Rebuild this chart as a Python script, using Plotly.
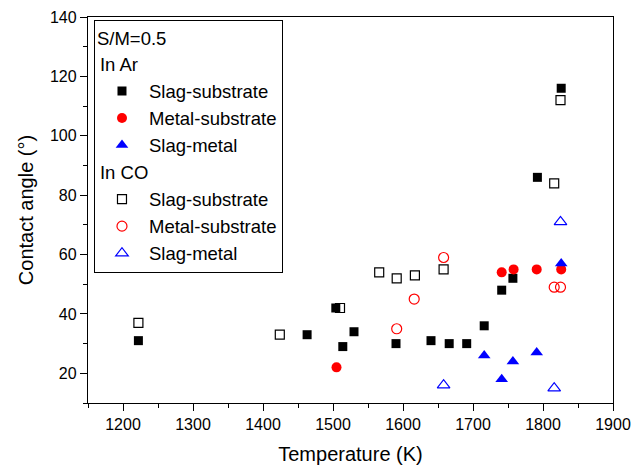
import plotly.graph_objects as go

# Slag-substrate in Ar (filled squares)
ss_ar_T = [1222, 1463, 1504, 1514, 1530, 1590, 1640, 1666, 1691, 1716, 1741, 1757, 1792, 1826]
ss_ar_A = [31, 33, 42, 29, 34, 30, 31, 30, 30, 36, 48, 52, 86, 116]
# Metal-substrate in Ar (filled circles)
ms_ar_T = [1505, 1741, 1758, 1791, 1826]
ms_ar_A = [22, 54, 55, 55, 55]
# Slag-metal in Ar (filled triangles)
sm_ar_T = [1716, 1741, 1757, 1791, 1826]
sm_ar_A = [26, 18, 24, 27, 57]
# Slag-substrate in CO (open squares)
ss_co_T = [1222, 1424, 1510, 1566, 1591, 1617, 1658, 1816, 1825]
ss_co_A = [37, 33, 42, 54, 52, 53, 55, 84, 112]
# Metal-substrate in CO (open circles)
ms_co_T = [1591, 1616, 1658, 1816, 1825]
ms_co_A = [35, 45, 59, 49, 49]
# Slag-metal in CO (open triangles)
sm_co_T = [1658, 1816, 1825]
sm_co_A = [16, 15, 71]

FONT = "Arial, Liberation Sans, sans-serif"
LEG = 18.5

fig = go.Figure()

def add(x, y, name, group, gtitle, symbol, color, size, filled):
    marker = dict(symbol=symbol, size=size, color=color)
    if not filled:
        marker["line"] = dict(color=color, width=1.2)
    else:
        marker["line"] = dict(width=0)
    fig.add_trace(go.Scatter(
        x=x, y=y, mode="markers", name=name, legendgroup=group,
        legendgrouptitle=dict(text=gtitle, font=dict(size=LEG, family=FONT, color="black")) if gtitle else None,
        marker=marker))

add(ss_ar_T, ss_ar_A, "Slag-substrate", "ar", "In Ar", "square", "black", 9, True)
add(ms_ar_T, ms_ar_A, "Metal-substrate", "ar", None, "circle", "#ff0000", 10, True)
add(sm_ar_T, sm_ar_A, "Slag-metal", "ar", None, "triangle-up", "#0000ff", 11, True)
add(ss_co_T, ss_co_A, "Slag-substrate", "co", "In CO", "square-open", "black", 9, False)
add(ms_co_T, ms_co_A, "Metal-substrate", "co", None, "circle-open", "#ff0000", 10, False)
add(sm_co_T, sm_co_A, "Slag-metal", "co", None, "triangle-up-open", "#0000ff", 11, False)

axis_common = dict(
    showgrid=False, zeroline=False, showline=True, linecolor="black", linewidth=1.3,
    mirror=True, ticks="outside", ticklen=7, tickwidth=1.3, tickcolor="black",
    tickfont=dict(size=16, family=FONT, color="black"), automargin=False,
)

fig.update_xaxes(
    range=[1150, 1900], tick0=1200, dtick=100,
    minor=dict(ticks="outside", ticklen=4, dtick=50, tick0=1150, tickcolor="black", tickwidth=1.3),
    title=dict(text="Temperature (K)", font=dict(size=20, family=FONT, color="black"), standoff=14),
    **axis_common)
fig.update_yaxes(
    range=[10, 140], tick0=0, dtick=20,
    minor=dict(ticks="outside", ticklen=4, dtick=10, tick0=0, tickcolor="black", tickwidth=1.3),
    title=dict(text="Contact angle (°)", font=dict(size=20, family=FONT, color="black"), standoff=10),
    **axis_common)

fig.update_layout(
    width=633, height=466,
    margin=dict(l=88, r=20, t=17, b=63),
    plot_bgcolor="white", paper_bgcolor="white",
    font=dict(family=FONT, color="black"),
    legend=dict(
        title=dict(text="S/M=0.5", font=dict(size=LEG, family=FONT, color="black")),
        x=0.0114, y=0.9915, xanchor="left", yanchor="top",
        bordercolor="black", borderwidth=1, bgcolor="white",
        font=dict(size=LEG, family=FONT, color="black"),
        traceorder="grouped", tracegroupgap=0, itemwidth=44,
    ),
)

fig.write_html("out.html")
